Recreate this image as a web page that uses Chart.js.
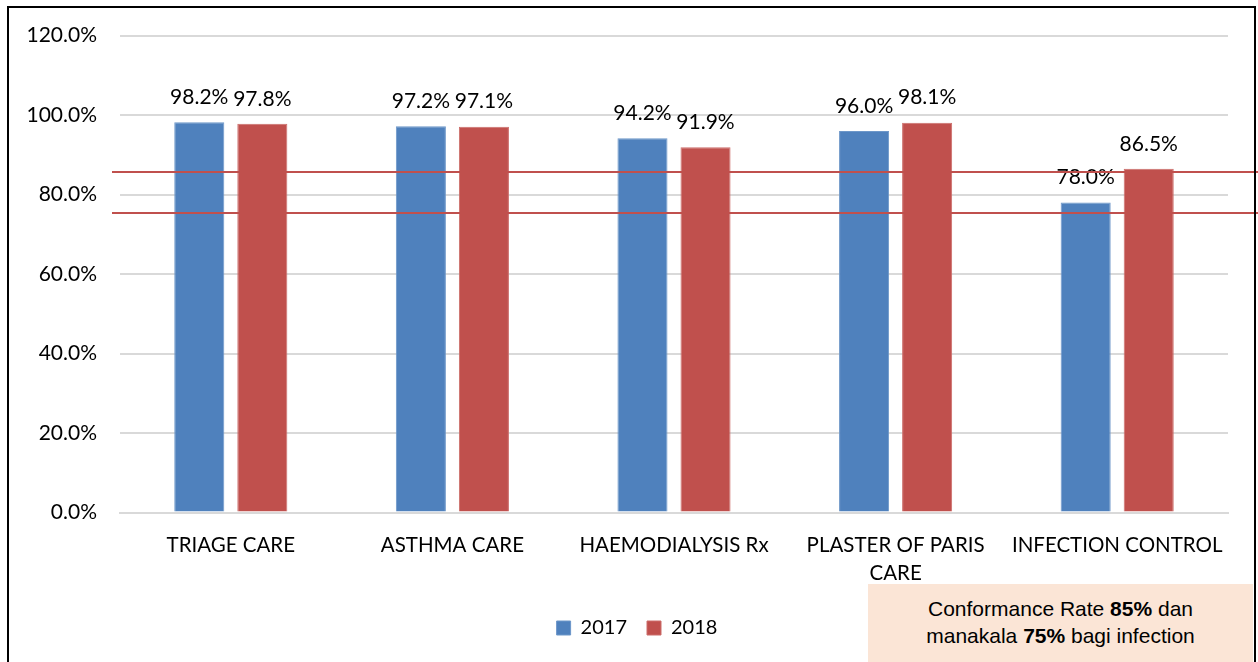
<!DOCTYPE html>
<html>
<head>
<meta charset="utf-8">
<script src="https://cdn.jsdelivr.net/npm/chart.js@4.4.1/dist/chart.umd.min.js"></script>
<style>
  html, body { margin: 0; padding: 0; background: #fff; overflow: hidden; }
  #wrap { position: relative; width: 1258px; height: 662px; }
  #frame { position: absolute; left: 7px; top: 6px; width: 1249px; height: 700px;
           border: 2px solid #000; box-sizing: border-box; pointer-events: none; }
  #note { position: absolute; left: 868px; top: 584px; width: 385px; height: 90px;
          background: #fbe5d6; }
  #note div { margin-top: 11px; height: 58px; overflow: hidden;
          font-family: "Liberation Sans", Arial, sans-serif;
          font-size: 21px; line-height: 27px; text-align: center; color: #000; }
</style>
</head>
<body>
<div id="wrap">
  <canvas id="chart" width="1258" height="662"></canvas>
  <div id="frame"></div>
  <div id="note"><div>Conformance Rate <b>85%</b> dan<br>manakala <b>75%</b> bagi infection<br>control</div></div>
</div>
<script>
// categories and values
var categories = ["TRIAGE CARE", "ASTHMA CARE", "HAEMODIALYSIS Rx", ["PLASTER OF PARIS", "CARE"], "INFECTION CONTROL"];
var series2017 = [98.2, 97.2, 94.2, 96.0, 78.0];
var series2018 = [97.8, 97.1, 91.9, 98.1, 86.5];
var yTicks = [0, 20, 40, 60, 80, 100, 120];
// the two red target lines as they sit in the picture
var targetLines = [85.6, 75.3];

var FONT = "Lato";

// draw value labels above bars
var valueLabels = {
  id: 'valueLabels',
  afterDatasetsDraw: function(chart) {
    var ctx = chart.ctx;
    ctx.save();
    ctx.font = "21px " + FONT;
    ctx.fillStyle = "#000";
    ctx.textAlign = "center";
    ctx.textBaseline = "middle";
    chart.data.datasets.forEach(function(ds, di) {
      chart.getDatasetMeta(di).data.forEach(function(bar, i) {
        ctx.fillText(ds.data[i].toFixed(1) + "%", bar.x, bar.y - 25);
      });
    });
    ctx.restore();
  }
};

// red horizontal lines running out to the right edge
var targetPlugin = {
  id: 'targets',
  afterDatasetsDraw: function(chart) {
    var ctx = chart.ctx, y = chart.scales.y;
    ctx.save();
    ctx.strokeStyle = "#c0504d";
    ctx.lineWidth = 2;
    targetLines.forEach(function(v) {
      var py = Math.round(y.getPixelForValue(v));
      ctx.beginPath();
      ctx.moveTo(chart.chartArea.left - 8, py);
      ctx.lineTo(chart.width, py);
      ctx.stroke();
    });
    ctx.restore();
  }
};

// legend sits centred on the whole frame, not on the padded box
var legendShift = {
  id: 'legendShift',
  afterLayout: function(chart) {
    if (chart.legend) {
      chart.legend.left += 23;
      chart.legend.right += 23;
    }
  }
};

new Chart(document.getElementById("chart"), {
  type: 'bar',
  data: {
    labels: categories,
    datasets: [
      {
        label: "2017",
        data: series2017,
        backgroundColor: "#4f81bd",
        borderColor: "#6d97c9",
        borderWidth: 1
      },
      {
        label: "2018",
        data: series2018,
        backgroundColor: "#c0504d",
        borderColor: "#cc6d6a",
        borderWidth: 1
      }
    ]
  },
  options: {
    responsive: false,
    animation: false,
    categoryPercentage: 0.569,
    barPercentage: 0.794,
    layout: { padding: { left: 0, right: 30, top: 25, bottom: 14 } },
    plugins: {
      legend: {
        position: 'bottom',
        labels: {
          font: { family: FONT, size: 20 },
          color: "#000",
          boxWidth: 14,
          boxHeight: 14,
          padding: 20
        }
      },
      tooltip: { enabled: false }
    },
    scales: {
      x: {
        grid: { display: false },
        border: { color: "#d9d9d9", width: 2 },
        ticks: {
          font: { family: FONT, size: 20.5, lineHeight: 1.4 },
          color: "#000",
          maxRotation: 0,
          autoSkip: false,
          padding: 10
        }
      },
      y: {
        min: 0,
        max: 120,
        afterBuildTicks: function(s) { s.ticks = yTicks.map(function(v) { return { value: v }; }); },
        afterFit: function(s) { s.width = 120; },
        grid: { color: "#d9d9d9", lineWidth: 2, drawTicks: false },
        border: { display: false },
        ticks: {
          font: { family: FONT, size: 21 },
          color: "#000",
          padding: 23,
          callback: function(v) { return v.toFixed(1) + "%"; }
        }
      }
    }
  },
  plugins: [valueLabels, targetPlugin, legendShift]
});
</script>
</body>
</html>
